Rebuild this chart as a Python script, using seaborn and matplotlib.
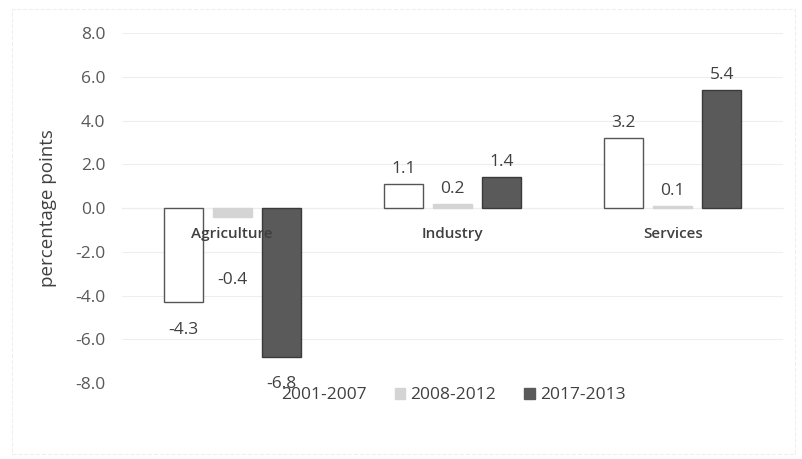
import matplotlib
matplotlib.use("Agg")
import matplotlib.pyplot as plt
import seaborn as sns
import pandas as pd
from matplotlib.patches import Patch, Rectangle

categories = ["Agriculture", "Industry", "Services"]
periods = ["2001-2007", "2008-2012", "2017-2013"]
vals_2001_2007 = [-4.3, 1.1, 3.2]
vals_2008_2012 = [-0.4, 0.2, 0.1]
vals_2017_2013 = [-6.8, 1.4, 5.4]
y_ticks = [-8.0, -6.0, -4.0, -2.0, 0.0, 2.0, 4.0, 6.0, 8.0]

fills = ["#ffffff", "#d4d4d4", "#5a5a5a"]
edges = ["#555555", "#d4d4d4", "#3a3a3a"]

rows = []
for p, vals in zip(periods, [vals_2001_2007, vals_2008_2012, vals_2017_2013]):
    for c, v in zip(categories, vals):
        rows.append({"sector": c, "period": p, "value": v})
df = pd.DataFrame(rows)

sns.set_style("white")
plt.rcParams["font.family"] = ["Open Sans", "DejaVu Sans"]

fig = plt.figure(figsize=(8.03, 4.59), dpi=100)
ax = fig.add_axes([0.152, 0.1656, 0.823, 0.7624])

sns.barplot(data=df, x="sector", y="value", hue="period", order=categories,
            hue_order=periods, palette=fills, width=0.666, gap=0.2,
            legend=False, ax=ax, zorder=2)

for cont, ec in zip(ax.containers, edges):
    for bar in cont:
        bar.set_edgecolor(ec)
        bar.set_linewidth(1.0)

# value labels
txt_col = "#404040"
all_vals = [vals_2001_2007, vals_2008_2012, vals_2017_2013]
for i, cont in enumerate(ax.containers):
    for j, bar in enumerate(cont):
        v = all_vals[i][j]
        x = bar.get_x() + bar.get_width() / 2
        if v >= 0:
            off = 5
            va = "bottom"
        else:
            off = -14
            va = "top"
        if i == 1 and v < 0:
            off = -40
        ax.annotate(f"{v:.1f}", (x, v), xytext=(0, off), textcoords="offset points",
                    ha="center", va=va, fontsize=12.5, color=txt_col, zorder=5)

ax.set_ylim(-8, 8)
ax.set_xlim(-0.5, 2.5)
ax.set_yticks(y_ticks)
ax.set_yticklabels([f"{t:.1f}" for t in y_ticks])
ax.yaxis.grid(True, color="#eeeeee", linewidth=0.8)
for s in ["top", "right", "left"]:
    ax.spines[s].set_visible(False)
ax.spines["bottom"].set_position(("data", 0))
ax.spines["bottom"].set_color("#e6e6e6")
ax.spines["bottom"].set_zorder(0.5)
ax.yaxis.set_zorder(0.5)
ax.xaxis.set_zorder(6)
ax.tick_params(axis="y", length=0, pad=12, labelsize=12.5, labelcolor="#595959")
ax.tick_params(axis="x", length=0, pad=14, labelsize=11, labelcolor="#404040")
for lbl in ax.get_xticklabels():
    lbl.set_fontweight("semibold")
ax.set_xlabel("")
ax.set_ylabel("percentage points", fontsize=13.5, color="#404040", labelpad=13)

handles = [Patch(facecolor=f, edgecolor=f) for f in fills]
fig.legend(handles, periods, loc="center", bbox_to_anchor=(0.555, 0.139), ncol=3,
           frameon=False, fontsize=12.5, handlelength=0.6, handleheight=0.6,
           handletextpad=0.3, columnspacing=1.6, labelcolor="#404040")

fig.patches.append(Rectangle((0.015, 0.01), 0.975, 0.97, transform=fig.transFigure,
                             fill=False, edgecolor="#eeeeee", linewidth=0.8,
                             linestyle="--"))

fig.savefig("out.png", dpi=100)
